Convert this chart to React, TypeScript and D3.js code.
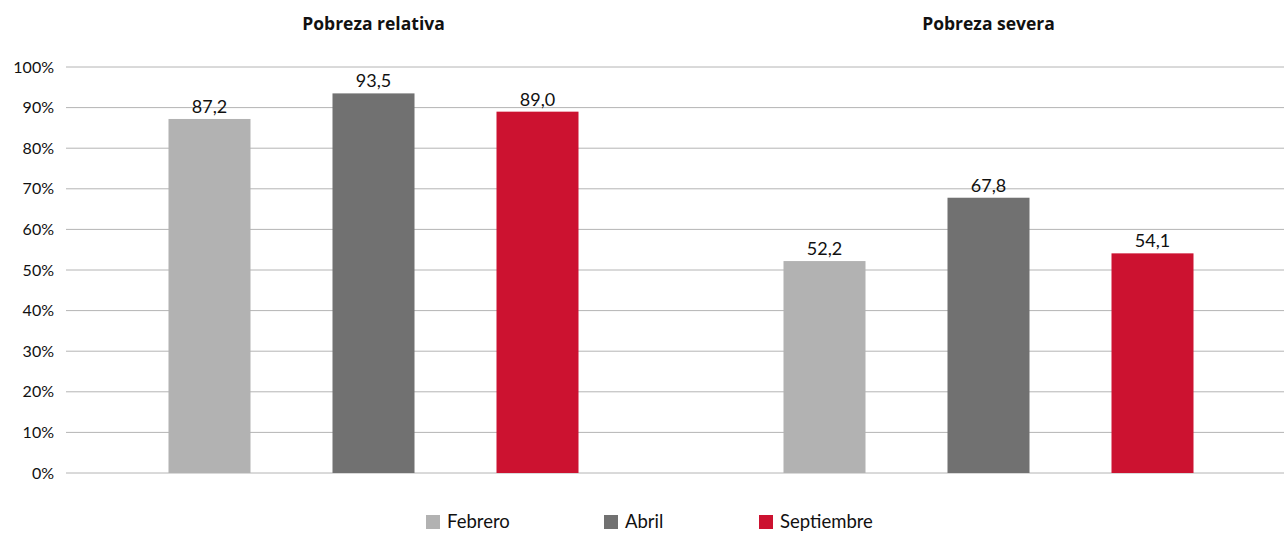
import React from "react";
import * as d3 from "d3";

const groups = ["Pobreza relativa", "Pobreza severa"];
const seriesNames = ["Febrero", "Abril", "Septiembre"];
const febrero = [87.2, 52.2];
const abril = [93.5, 67.8];
const septiembre = [89.0, 54.1];
const yTicks = [0, 10, 20, 30, 40, 50, 60, 70, 80, 90, 100];
const colors = ["#b2b2b2", "#717171", "#cc1230"];

const W = 1284;
const H = 533;
const FONT = "Lato, 'Open Sans', sans-serif";

export default function App() {
  const values = [febrero, abril, septiembre];
  const x0 = d3.scaleBand<string>().domain(groups).range([66, 1296]).padding(0);
  const x1 = d3
    .scaleBand<string>()
    .domain(seriesNames)
    .range([0, x0.bandwidth()])
    .paddingInner(0.5)
    .paddingOuter(0.625);
  const y = d3.scaleLinear().domain([0, 100]).range([473, 67]);
  const fmt = (v: number) => v.toFixed(1).replace(".", ",");

  const legendX = [426, 604, 759];

  return (
    <svg
      width={W}
      height={H}
      style={{ position: "absolute", left: 0, top: 0, display: "block", background: "#fff" }}
      fontFamily={FONT}
    >
      {yTicks.map((t) => (
        <g key={t}>
          <line x1={66} x2={W} y1={y(t)} y2={y(t)} stroke="#b4b4b4" strokeWidth={1} />
          <text x={54} y={y(t)} dy="0.35em" textAnchor="end" fontSize={16} fill="#111">
            {t}%
          </text>
        </g>
      ))}
      {groups.map((g, gi) => (
        <g key={g} transform={`translate(${x0(g)},0)`}>
          <text
            x={x0.bandwidth() / 2}
            y={30}
            textAnchor="middle"
            fontSize={17.5}
            fontWeight="bold"
            fontFamily="'Open Sans', sans-serif"
            fill="#111"
          >
            {g}
          </text>
          {seriesNames.map((s, si) => {
            const v = values[si][gi];
            return (
              <g key={s}>
                <rect
                  x={x1(s)}
                  y={y(v)}
                  width={x1.bandwidth()}
                  height={y(0) - y(v)}
                  fill={colors[si]}
                />
                <text
                  x={(x1(s) as number) + x1.bandwidth() / 2}
                  y={y(v) - 6}
                  textAnchor="middle"
                  fontSize={18}
                  fill="#111"
                >
                  {fmt(v)}
                </text>
              </g>
            );
          })}
        </g>
      ))}
      {seriesNames.map((s, si) => (
        <g key={s} transform={`translate(${legendX[si]},0)`}>
          <rect x={0} y={515} width={14} height={14} fill={colors[si]} />
          <text x={21} y={528} fontSize={18.5} fill="#111">
            {s}
          </text>
        </g>
      ))}
    </svg>
  );
}
